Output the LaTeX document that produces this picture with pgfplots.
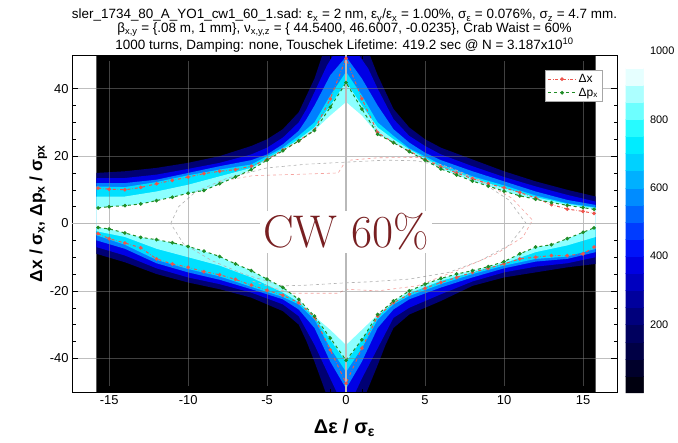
\documentclass[border=0pt]{standalone}
\usepackage{fontspec}
\setsansfont{Liberation Sans}
\renewcommand{\familydefault}{\sfdefault}
\usepackage{pgfplots}
\pgfplotsset{compat=1.18}
\definecolor{dblue}{rgb}{0,0,0.45}
\definecolor{mblue}{rgb}{0,0,0.9}
\definecolor{sblue}{rgb}{0,0.5,1}
\definecolor{cyanA}{rgb}{0,0.88,1}
\definecolor{cyanB}{rgb}{0.55,1,1}
\definecolor{redc}{rgb}{0.93,0.33,0.30}
\definecolor{greenc}{rgb}{0.12,0.55,0.15}
\definecolor{cwred}{rgb}{0.47,0.12,0.13}
\begin{document}
\begin{tikzpicture}
\path[use as bounding box] (-72bp,-51bp) rectangle (606bp,392bp);
\begin{axis}[
  at={(0,0)}, anchor=south west,
  scale only axis, width=545bp, height=337bp,
  xmin=-17.35, xmax=17.15, ymin=-50, ymax=50,
  xtick={-15,-10,...,15}, ytick={-40,-20,...,40},
  minor x tick num=4, minor y tick num=3,
  major tick length=6bp, minor tick length=3.5bp,
  tick style={black, line width=0.5pt},
  axis line style={black, line width=0.6pt},
  axis on top,
  grid=major,
  major grid style={gray, opacity=0.5, line width=0.5pt},
  extra x ticks={0}, extra x tick labels={},
  extra y ticks={0}, extra y tick labels={},
  extra tick style={grid=major, major grid style={gray!55, line width=1.3pt, opacity=1}, major tick length=0},
  /pgf/number format/assume math mode=true,
  ticklabel style={font=\fontsize{13}{13}\selectfont},
  xlabel={\textbf{Δε / σ\textsubscript{ε}}},
  ylabel={\textbf{Δx / σ\textsubscript{x}, Δp\textsubscript{x} / σ\textsubscript{px}}},
  xlabel style={font=\fontsize{20}{20}\selectfont, at={(axis description cs:0.5,-0.1235)}, anchor=base},
  ylabel style={font=\fontsize{17.5}{18}\selectfont, at={(axis description cs:-0.055,0.53)}, anchor=base},
  title={sler\_1734\_80\_A\_YO1\_cw1\_60\_1.sad: ε\textsubscript{x} = 2 nm, ε\textsubscript{y}/ε\textsubscript{x} = 1.00\%, σ\textsubscript{ε} = 0.076\%, σ\textsubscript{z} = 4.7 mm.\\ β\textsubscript{x,y} = \{.08 m, 1 mm\}, ν\textsubscript{x,y,z} = \{ 44.5400, 46.6007, -0.0235\}, Crab Waist = 60\%\\ 1000 turns, Damping: none, Touschek Lifetime: 419.2 sec @ N = 3.187x10\textsuperscript{10}},
  title style={align=center, font=\fontsize{13.5}{14}\selectfont, at={(0.5,1)}, anchor=south, yshift=-7bp},
  legend style={at={(1,1)}, anchor=north east, xshift=-15bp, yshift=-15bp, draw=gray!70, fill=white, font=\fontsize{12}{13}\selectfont, inner sep=2pt, row sep=0pt},
  legend cell align=left,
  legend image code/.code={\draw[mark repeat=2,mark phase=2,#1] plot coordinates {(0cm,0cm) (0.5cm,0cm) (1cm,0cm)};},
  point meta min=0, point meta max=1000,
  colormap={cwmap}{rgb=(0,0,0) rgb=(0,0,0.12) rgb=(0,0,0.22) rgb=(0,0,0.32) rgb=(0,0,0.42) rgb=(0,0,0.55) rgb=(0,0,0.68) rgb=(0,0,0.82) rgb=(0,0,0.95) rgb=(0,0.15,1) rgb=(0,0.32,1) rgb=(0,0.48,1) rgb=(0,0.62,1) rgb=(0,0.76,1) rgb=(0,0.88,1) rgb=(0,0.97,1) rgb=(0.3,1,1) rgb=(0.55,1,1) rgb=(0.8,1,1) rgb=(1,1,1) rgb=(1,1,1)},
  colorbar sampled,
  colorbar style={samples=21, at={(parent axis.south east)}, anchor=south west, xshift=0bp, yshift=-1bp,
    scale only axis, width=18bp, height=342bp, axis line style={draw=none},
    ytick={200,400,600,800,1000}, scaled y ticks=false, major tick length=0, minor tick num=0,
    xmajorgrids=false, ymajorgrids=false, extra y ticks={}, extra x ticks={},
    /pgf/number format/assume math mode=true, /pgf/number format/1000 sep={},
    yticklabel style={font=\fontsize{11}{11}\selectfont, xshift=3bp, /pgf/number format/1000 sep={}}},
]
% heat map background
\addplot[fill=black, draw=none, forget plot] coordinates {(-15.8,-50) (15.8,-50) (15.8,50) (-15.8,50) (-15.8,-50)};
% dark blue fringe
\addplot[fill=dblue, draw=none, forget plot] coordinates {
(-15.8,15) (-14,15.5) (-12,16.5) (-10,18) (-8,20) (-6,23) (-5,25) (-4,28) (-3,33) (-2.5,38) (-2,43) (-1.5,50) (1.5,50) (2,44) (2.5,39) (3,34) (4,28.5) (5,25) (6,22.5) (8,19) (10,15.5) (12,12.5) (14,10) (15.8,8)
(15.8,-12) (14,-13) (12,-14.5) (10,-16) (8,-18.5) (6,-23) (4,-27) (3,-31) (2.5,-36) (2,-42) (1.3,-50) (-1.3,-50) (-2,-41) (-2.5,-35) (-3,-30) (-4,-26) (-6,-22) (-8,-19.5) (-10,-17.5) (-12,-15) (-14,-11.5) (-15.8,-9) (-15.8,15)};
% blue
\addplot[fill=mblue, draw=none, forget plot] coordinates {
(-15.8,13.5) (-14,13.5) (-12,14.5) (-10,16.2) (-8,18) (-6,20.5) (-5,22.5) (-4,25.5) (-3,30) (-2.5,34) (-2,39) (-1.2,47) (-0.8,50) (0.8,50) (1.4,46) (2,40) (3,31) (4,26) (5,23) (6,20.5) (8,17) (10,13.8) (12,11) (14,8.5) (15.8,6.5)
(15.8,-10) (14,-11.8) (12,-12.8) (10,-14.5) (8,-17.2) (6,-21) (4,-25) (3,-28) (2,-37) (1,-46) (0.6,-50) (-0.6,-50) (-1,-46) (-2,-36) (-3,-27.5) (-4,-24) (-6,-20.5) (-8,-18) (-10,-16) (-12,-13.3) (-14,-9.5) (-15.8,-7) (-15.8,13.5)};
% sky blue
\addplot[fill=sblue, draw=none, forget plot] coordinates {
(-15.8,12) (-14,12) (-12,13) (-10,15) (-8,17) (-6,18.8) (-5,20.5) (-4,23.5) (-3,27.5) (-2.5,31) (-2,35) (-1,44) (0,49.5) (1,43) (2,35) (3,28) (4,24) (5,21) (6,18.8) (8,15.5) (10,12.5) (12,9.5) (14,7) (15.8,5.5)
(15.8,-8.5) (14,-10.5) (12,-11.3) (10,-13.3) (8,-16) (6,-19) (4,-22.5) (3,-25.5) (2,-31) (1,-41) (0,-49) (-1,-41) (-2,-31) (-3,-25.5) (-4,-22.5) (-6,-19.5) (-8,-16.7) (-10,-14.5) (-12,-11.8) (-14,-7.5) (-15.8,-5) (-15.8,12)};
% cyan
\addplot[fill=cyanA, draw=none, forget plot] coordinates {
(-15.8,11) (-14,10.8) (-12,12.3) (-10,14.3) (-8,16) (-6,17.5) (-4,22.5) (-3,26) (-2,30) (-1,38) (0,45) (1,38) (2,30) (3,26) (4,22.3) (6,17.5) (8,14) (10,11.3) (12,8.3) (14,6) (15.8,4.8)
(15.8,-7.5) (14,-9.8) (12,-10.5) (10,-12.5) (8,-15) (6,-18) (4,-21.5) (3,-24) (2,-28.5) (1,-37) (0,-44) (-1,-37) (-2,-28.5) (-3,-24) (-4,-21.8) (-6,-18.8) (-8,-15.7) (-10,-13.5) (-12,-10.8) (-14,-6.3) (-15.8,-3.5) (-15.8,11)};
% light cyan
\addplot[fill=cyanB, draw=none, forget plot] coordinates {
(-15.8,8) (-14,8) (-12,9.5) (-10,11.5) (-8,14) (-6,16.5) (-4,22) (-3,25) (-2,28.5) (-1,35) (0,42) (1,35) (2,28.5) (3,25) (4,22) (6,16.8) (8,13.5) (10,10.5) (12,7.8) (14,5.8) (15.8,4.6)
(15.8,-4) (14,-6.5) (12,-8.5) (10,-11.8) (8,-14.5) (6,-17) (4,-20.7) (3,-23.5) (2,-27.5) (1,-34.5) (0,-41) (-1,-34.5) (-2,-27.8) (-3,-23.3) (-4,-20.5) (-6,-16) (-8,-12.5) (-10,-10) (-12,-7.5) (-14,-4) (-15.8,-2.3) (-15.8,8)};
% white core
\addplot[fill=white, draw=none, forget plot] coordinates {
(-15.8,4.6) (-15,5.0) (-14,5.3) (-13,5.8) (-12,6.8) (-11,7.8) (-10,9.0) (-9,9.8) (-8,11.8) (-7,13.8) (-6,16.0) (-5,18.8) (-4,21.6) (-3,24.5) (-2,27.6) (-1,32) (0,36) (1,32) (2,26.5) (3,24.0) (4,21.3) (5,18.8) (6,16.2) (7,14.4) (8,12.6) (9,11.1) (10,9.6) (11,8.2) (12,7.2) (13,6.2) (14,5.4) (15,4.7) (15.8,4.2)
(15.8,-1.3) (15,-2.6) (14,-4.5) (13,-6.3) (12,-7.0) (11,-9.0) (10,-11.3) (9,-12.8) (8,-14.0) (7,-15.0) (6,-16.3) (5,-18.0) (4,-20.0) (3,-23.0) (2,-27.0) (1,-31.5) (0,-36) (-1,-31.5) (-2,-27.5) (-3,-22.5) (-4,-19.0) (-5,-16.5) (-6,-14.0) (-7,-12.0) (-8,-9.8) (-9,-8.2) (-10,-6.8) (-11,-5.7) (-12,-4.8) (-13,-4.1) (-14,-2.8) (-15,-1.6) (-15.8,-1.2) (-15.8,4.6)};
% faint dashed contours
\addplot[gray!60, dashed, line width=0.6pt, forget plot] coordinates {
(-11.1,0) (-10.6,5) (-9.5,9.5) (-7.5,13.5) (-5,16.5) (-2.5,17.6) (0,18.2) (2.5,18.8) (4.5,18.6) (6.5,16.5) (8.5,12.5) (10.3,7) (11.4,0) (10.3,-6.5) (8.5,-11) (6.5,-14.5) (4,-16.5) (1.5,-17.3) (0,-17.6) (-2.5,-18.3) (-4,-18.5) (-6.5,-15) (-8.5,-11) (-10.3,-6) (-11.1,0)};
\addplot[redc!55, dashed, line width=0.6pt, forget plot] coordinates {
(-8,12.5) (-5.9,14.2) (-3,14.6) (-0.5,15) (0,18.7) (2,19.5) (4.5,19.6) (6.6,16.6) (8.5,12.8) (10.5,7.5) (11.8,1) (11.2,-4) (9.5,-9) (7,-14) (4.5,-18.5) (2,-20) (0,-19.5) (-0.5,-20.7) (-3.5,-20.7) (-6,-17)};
% measured apertures
\addplot[redc, dash dot, line width=1pt, mark=*, mark size=1.3pt, mark options={solid}] coordinates {
(-15.7,10.5) (-15,10.2) (-14,10.0) (-13,10.7) (-12,11.8) (-11,12.8) (-10,13.8) (-9,14.8) (-8,15.5) (-7,16.0) (-6,17.0) (-5,19.0) (-4,21.8) (-3,24.5) (-2,27.8) (-1,37.0) (0,49.0) (1,37.0) (2,27.0) (3,24.0) (4,21.5) (5,19.0) (6,16.8) (7,15.0) (8,13.3) (9,11.8) (10,10.6) (11,9.2) (12,7.6) (13,5.6) (14,4.3) (15,3.6) (15.7,3.0)};
\addlegendentry{Δx}
\addplot[greenc, dashed, line width=1pt, mark=*, mark size=1.3pt, mark options={solid}] coordinates {
(-15.7,4.6) (-15,5.0) (-14,5.3) (-13,5.8) (-12,6.8) (-11,7.8) (-10,9.0) (-9,9.8) (-8,11.8) (-7,13.8) (-6,16.0) (-5,18.8) (-4,21.6) (-3,24.5) (-2,27.6) (-1,34.5) (0,41.8) (1,34.0) (2,26.5) (3,24.0) (4,21.3) (5,18.8) (6,16.2) (7,14.4) (8,12.6) (9,11.1) (10,9.6) (11,8.2) (12,7.2) (13,6.2) (14,5.4) (15,4.7) (15.7,4.2)};
\addlegendentry{Δp\textsubscript{x}}
\addplot[redc, dash dot, line width=1pt, mark=*, mark size=1.3pt, mark options={solid}, forget plot] coordinates {
(-15.7,-3.0) (-15,-4.5) (-14,-5.8) (-13,-7.2) (-12,-10.5) (-11,-12.0) (-10,-13.0) (-9,-14.3) (-8,-15.2) (-7,-16.6) (-6,-18.3) (-5,-19.8) (-4,-21.3) (-3,-23.5) (-2,-27.8) (-1,-37.5) (0,-47.4) (1,-37.0) (2,-27.5) (3,-23.5) (4,-21.0) (5,-19.2) (6,-17.5) (7,-16.0) (8,-14.5) (9,-13.3) (10,-12.0) (11,-10.5) (12,-10.0) (13,-9.5) (14,-9.5) (15,-9.0) (15.7,-7.0)};
\addplot[greenc, dashed, line width=1pt, mark=*, mark size=1.3pt, mark options={solid}, forget plot] coordinates {
(-15.7,-1.2) (-15,-1.6) (-14,-2.8) (-13,-4.1) (-12,-4.8) (-11,-5.7) (-10,-6.8) (-9,-8.2) (-8,-9.8) (-7,-12.0) (-6,-14.0) (-5,-16.5) (-4,-19.0) (-3,-22.5) (-2,-27.5) (-1,-34.0) (0,-40.6) (1,-34.5) (2,-27.0) (3,-23.0) (4,-20.0) (5,-18.0) (6,-16.3) (7,-15.0) (8,-14.0) (9,-12.8) (10,-11.3) (11,-9.0) (12,-7.0) (13,-6.3) (14,-4.5) (15,-2.6) (15.7,-1.3)};
\coordinate (cw) at (axis cs:0,-2.5);
\end{axis}
\node[fill=white, inner sep=3bp, text=cwred, font=\rmfamily\fontsize{46}{46}\selectfont] at (cw) {CW 60\%};
\end{tikzpicture}
\end{document}
